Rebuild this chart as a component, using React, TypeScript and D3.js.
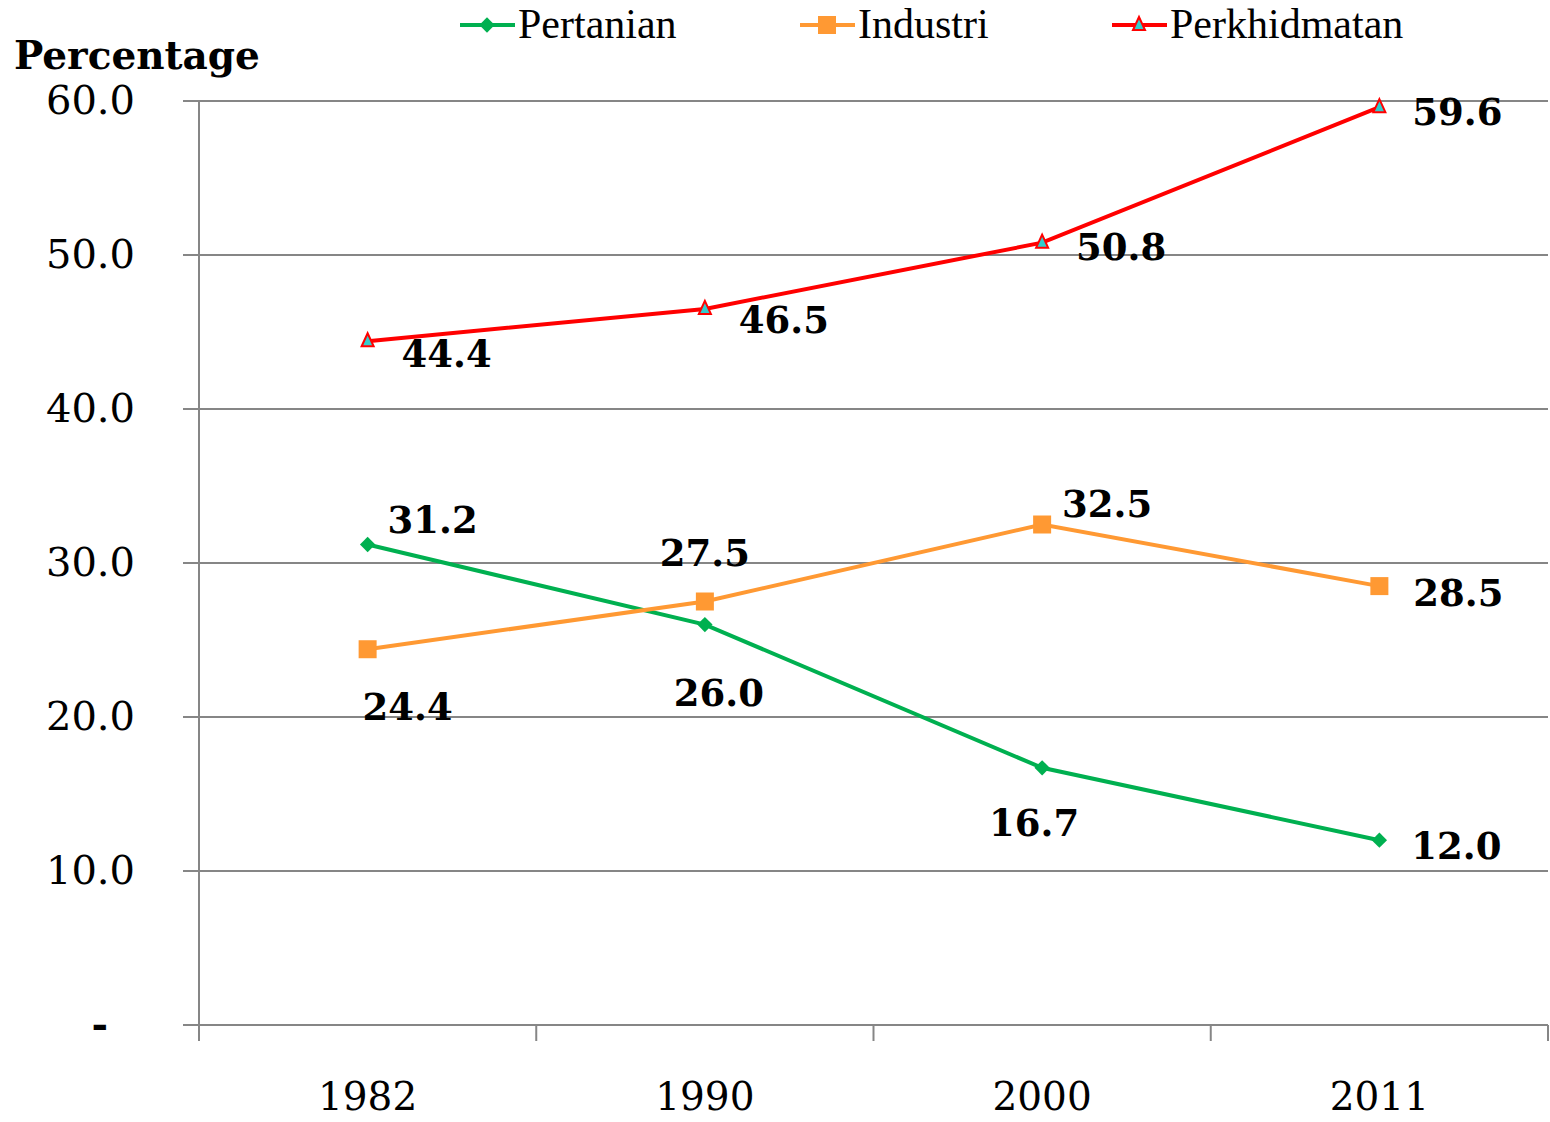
import { useRef, useEffect } from 'react';
import * as d3 from 'd3';

const years = ['1982', '1990', '2000', '2011'];
const pertanian = [31.2, 26.0, 16.7, 12.0];
const industri = [24.4, 27.5, 32.5, 28.5];
const perkhidmatan = [44.4, 46.5, 50.8, 59.6];
const yTicks = [0, 10, 20, 30, 40, 50, 60];

// label offsets per point (dx, dy relative to the marker)
const pertanianPos = [[65, -26], [14, 67], [-8, 54], [77, 5]];
const industriPos = [[40, 57], [0, -50], [65, -22], [79, 6]];
const perkhidmatanPos = [[79, 12], [79, 10], [79, 3], [78, 4]];

const W = 1550;
const H = 1122;

export default function App() {
  const svgRef = useRef<SVGSVGElement>(null);

  useEffect(() => {
    if (!svgRef.current) return;
    const svg = d3.select(svgRef.current);
    svg.selectAll('*').remove();

    const left = 199, right = 1548, top = 101, bottom = 1025;
    const font = '"DejaVu Serif", serif';
    const legendFont = '"Liberation Serif", serif';

    const x = d3.scaleBand<string>().domain(years).range([left, right]);
    const y = d3.scaleLinear().domain([0, 60]).range([bottom, top]);
    const cx = (i: number) => (x(years[i]) as number) + x.bandwidth() / 2;

    // Grid lines
    svg.append('g')
      .selectAll('line')
      .data(yTicks)
      .join('line')
      .attr('x1', left - 16)
      .attr('x2', right)
      .attr('y1', (d) => y(d))
      .attr('y2', (d) => y(d))
      .attr('stroke', '#868686')
      .attr('stroke-width', 2);

    // Y axis line
    svg.append('line')
      .attr('x1', left).attr('x2', left)
      .attr('y1', top).attr('y2', bottom + 16)
      .attr('stroke', '#868686').attr('stroke-width', 2);

    // X category ticks
    const xTickPos = years.map((d) => x(d) as number).concat([right]);
    svg.append('g')
      .selectAll('line')
      .data(xTickPos.slice(1))
      .join('line')
      .attr('x1', (d) => d).attr('x2', (d) => d)
      .attr('y1', bottom).attr('y2', bottom + 16)
      .attr('stroke', '#868686').attr('stroke-width', 2);

    // Y tick labels
    svg.append('g')
      .selectAll('text')
      .data(yTicks)
      .join('text')
      .attr('x', (d) => (d === 0 ? 108 : 135))
      .attr('y', (d) => y(d) + 13)
      .attr('text-anchor', 'end')
      .attr('font-family', font)
      .attr('font-size', 40)
      .attr('font-weight', (d) => (d === 0 ? 'bold' : 'normal'))
      .text((d) => (d === 0 ? '-' : d3.format('.1f')(d)));

    // X labels
    svg.append('g')
      .selectAll('text')
      .data(years)
      .join('text')
      .attr('x', (_, i) => cx(i))
      .attr('y', 1110)
      .attr('text-anchor', 'middle')
      .attr('font-family', font)
      .attr('font-size', 39)
      .text((d) => d);

    // Axis title
    svg.append('text')
      .attr('x', 14).attr('y', 69)
      .attr('font-family', font)
      .attr('font-size', 39)
      .attr('font-weight', 'bold')
      .text('Percentage');

    const series = [
      { name: 'Pertanian', values: pertanian, color: '#00B050', marker: 'diamond', pos: pertanianPos },
      { name: 'Industri', values: industri, color: '#FF9933', marker: 'square', pos: industriPos },
      { name: 'Perkhidmatan', values: perkhidmatan, color: '#FF0000', marker: 'triangle', pos: perkhidmatanPos },
    ];

    const line = d3.line<number>()
      .x((_, i) => cx(i))
      .y((d) => y(d));

    const drawMarker = (g: d3.Selection<SVGGElement, unknown, null, undefined>, kind: string, color: string, px: number, py: number) => {
      if (kind === 'diamond') {
        g.append('path')
          .attr('d', d3.symbol(d3.symbolDiamond2, 150)())
          .attr('transform', `translate(${px},${py})`)
          .attr('fill', color);
      } else if (kind === 'square') {
        g.append('rect')
          .attr('x', px - 9).attr('y', py - 9)
          .attr('width', 18).attr('height', 18)
          .attr('fill', color);
      } else {
        g.append('path')
          .attr('d', `M${px},${py - 8}L${px + 6},${py + 5}L${px - 6},${py + 5}Z`)
          .attr('fill', '#33CCCC')
          .attr('stroke', color)
          .attr('stroke-width', 2);
      }
    };

    series.forEach((s) => {
      const g = svg.append('g');
      g.append('path')
        .datum(s.values)
        .attr('fill', 'none')
        .attr('stroke', s.color)
        .attr('stroke-width', 4)
        .attr('d', line);
      s.values.forEach((v, i) => drawMarker(g, s.marker, s.color, cx(i), y(v)));
      g.selectAll('text.lbl')
        .data(s.values)
        .join('text')
        .attr('class', 'lbl')
        .attr('x', (_, i) => cx(i) + s.pos[i][0])
        .attr('y', (d, i) => y(d) + s.pos[i][1] + 14)
        .attr('text-anchor', 'middle')
        .attr('font-family', font)
        .attr('font-size', 37)
        .attr('font-weight', 'bold')
        .text((d) => d3.format('.1f')(d));
    });

    // Legend
    const legendX = [460, 800, 1112];
    series.forEach((s, i) => {
      const g = svg.append('g');
      const lx = legendX[i];
      g.append('line')
        .attr('x1', lx).attr('x2', lx + 55)
        .attr('y1', 25).attr('y2', 25)
        .attr('stroke', s.color).attr('stroke-width', 4);
      drawMarker(g, s.marker, s.color, lx + 27, 25);
      g.append('text')
        .attr('x', lx + 58).attr('y', 38)
        .attr('font-family', legendFont)
        .attr('font-size', 42)
        .text(s.name);
    });
  }, []);

  return <svg ref={svgRef} width={W} height={H} style={{ display: 'block', position: 'absolute', left: 0, top: 0, background: '#fff' }} />;
}
